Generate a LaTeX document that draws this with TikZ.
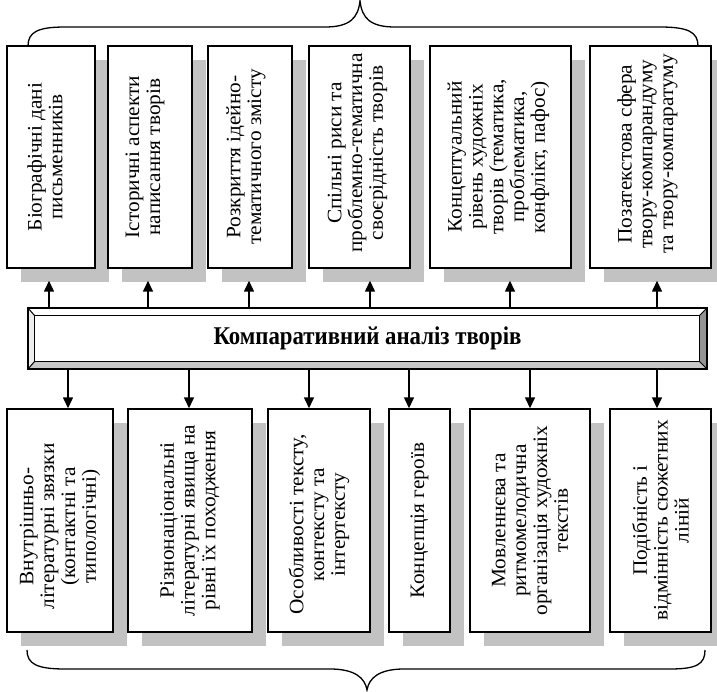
\documentclass[tikz,border=0pt]{standalone}
\usepackage{fontspec}
\setmainfont{Liberation Serif}
\usetikzlibrary{arrows.meta,shadows}
\definecolor{shade}{gray}{0.76}
\definecolor{bevlight}{gray}{0.93}
\definecolor{bevmid}{gray}{0.78}
\definecolor{bevdark}{gray}{0.58}
\begin{document}
\begin{tikzpicture}[x=1pt,y=-1pt,
  box/.style={draw, line width=1.4pt, fill=white, inner sep=0pt,
    drop shadow={shadow xshift=14pt, shadow yshift=-14pt, fill=shade, opacity=1}},
  lbl/.style={rotate=90, xscale=1.04, align=center, font=\fontsize{20.5}{20.8}\selectfont, inner sep=0pt},
  arr/.style={line width=1.4pt, -{Triangle[width=10pt,length=11pt]}},
  brace/.style={line width=1.3pt}]
\useasboundingbox (0,0) rectangle (717,692);

% top boxes
\node[box, minimum width=88pt,  minimum height=222pt] (t1) at (51,157) {};
\node[box, minimum width=84pt,  minimum height=222pt] (t2) at (150,157) {};
\node[box, minimum width=84pt,  minimum height=222pt] (t3) at (250,157) {};
\node[box, minimum width=101pt, minimum height=222pt] (t4) at (359.5,157) {};
\node[box, minimum width=141pt, minimum height=222pt] (t5) at (500.5,157) {};
\node[box, minimum width=121pt, minimum height=222pt] (t6) at (650.5,157) {};
\node[lbl] (t1l) at ([xshift=-6pt]t1) {Біографічні дані\\письменників};
\node[lbl] (t2l) at ([xshift=-5pt]t2) {Історичні аспекти\\написання творів};
\node[lbl] (t3l) at ([xshift=-4pt]t3) {Розкриття ідейно-\\тематичного змісту};
\node[lbl] (t4l) at ([xshift=-2pt,yshift=4pt]t4) {Спільні риси та\\проблемно-тематична\\своєрідність творів};
\node[lbl] (t5l) at ([xshift=-2pt]t5) {Концептуальний\\рівень художніх\\творів (тематика,\\проблематика,\\конфлікт, пафос)};
\node[lbl] (t6l) at ([xshift=-3pt,yshift=3pt]t6) {Позатекстова сфера\\твору-компарандуму\\та твору-компаратуму};

% bottom boxes
\node[box, minimum width=106pt, minimum height=223pt] (b1) at (60,520.5) {};
\node[box, minimum width=124pt, minimum height=223pt] (b2) at (190,520.5) {};
\node[box, minimum width=102pt, minimum height=223pt] (b3) at (319,520.5) {};
\node[box, minimum width=61pt,  minimum height=223pt] (b4) at (419.5,520.5) {};
\node[box, minimum width=120pt, minimum height=223pt] (b5) at (530,520.5) {};
\node[box, minimum width=101pt, minimum height=223pt] (b6) at (660.5,520.5) {};
\node[lbl] (b1l) at ([yshift=-6pt]b1) {Внутрішньо-\\літературні звязки\\(контактні та\\типологічні)};
\node[lbl] (b2l) at (b2) {Різнонаціональні\\літературні явища на\\рівні їх походження};
\node[lbl] (b3l) at ([yshift=-4pt]b3) {Особливості тексту,\\контексту та\\інтертексту};
\node[lbl] (b4l) at (b4) {Концепція героїв};
\node[lbl] (b5l) at (b5) {Мовленнєва та\\ритмомелодична\\організація художніх\\текстів};
\node[lbl] (b6l) at (b6) {Подібність і\\відмінність сюжетних\\ліній};

% central bar
\node[minimum width=679pt, minimum height=61pt, inner sep=0pt] (bar) at (367.5,338.5) {};
\coordinate (bi1) at ([shift={(7,8)}]bar.north west);
\coordinate (bi2) at ([shift={(-8,8)}]bar.north east);
\coordinate (bi3) at ([shift={(-8,-8)}]bar.south east);
\coordinate (bi4) at ([shift={(7,-8)}]bar.south west);
\fill[white] (bar.north west) -- (bar.north east) -- (bi2) -- (bi1) -- cycle;
\fill[bevlight] (bar.north west) -- (bi1) -- (bi4) -- (bar.south west) -- cycle;
\fill[bevmid] (bar.south west) -- (bi4) -- (bi3) -- (bar.south east) -- cycle;
\fill[bevdark] (bar.north east) -- (bi2) -- (bi3) -- (bar.south east) -- cycle;
\fill[white] (bi1) rectangle (bi3);
\draw[line width=1.5pt] (bar.north west) rectangle (bar.south east);
\draw[line width=1.1pt] (bi1) rectangle (bi3);
\draw[line width=1pt] (bar.north west) -- (bi1) (bar.north east) -- (bi2)
  (bar.south east) -- (bi3) (bar.south west) -- (bi4);
\node[font=\fontsize{22.8}{26}\selectfont\bfseries, yscale=1.12, inner sep=0pt] (title) at (bar) {Компаративний аналіз творів};

% arrows up
\draw[arr] ([xshift=-2pt]t1.south |- bar.north) -- ([xshift=-2pt,yshift=-12pt]t1.south);
\draw[arr] ([xshift=-2pt]t2.south |- bar.north) -- ([xshift=-2pt,yshift=-12pt]t2.south);
\draw[arr] ([xshift=-1pt]t3.south |- bar.north) -- ([xshift=-1pt,yshift=-12pt]t3.south);
\draw[arr] ([xshift=10.5pt]t4.south |- bar.north) -- ([xshift=10.5pt,yshift=-12pt]t4.south);
\draw[arr] ([xshift=9.5pt]t5.south |- bar.north) -- ([xshift=9.5pt,yshift=-12pt]t5.south);
\draw[arr] ([xshift=6.5pt]t6.south |- bar.north) -- ([xshift=6.5pt,yshift=-12pt]t6.south);

% arrows down
\draw[arr] ([xshift=8pt]b1.north |- bar.south) -- ([xshift=8pt]b1.north);
\draw[arr] ([xshift=-1pt]b2.north |- bar.south) -- ([xshift=-1pt]b2.north);
\draw[arr] ([xshift=-10pt]b3.north |- bar.south) -- ([xshift=-10pt]b3.north);
\draw[arr] ([xshift=-10.5pt]b4.north |- bar.south) -- ([xshift=-10.5pt]b4.north);
\draw[arr] ([xshift=0pt]b5.north |- bar.south) -- ([xshift=0pt]b5.north);
\draw[arr] ([xshift=-3.5pt]b6.north |- bar.south) -- ([xshift=-3.5pt]b6.north);

% braces
\draw[brace] (28,46) .. controls (28,32) and (38,27) .. (65,27) -- (325,27)
  .. controls (350,27) and (358,18) .. (360,1)
  .. controls (362,18) and (370,27) .. (395,27) -- (660,27)
  .. controls (688,27) and (698,32) .. (698,46);
\draw[brace] (27,650) .. controls (27,664) and (37,669) .. (65,669) -- (330,669)
  .. controls (355,669) and (365,678) .. (367,690)
  .. controls (369,678) and (379,669) .. (404,669) -- (670,669)
  .. controls (697,669) and (705,664) .. (705,650);
\end{tikzpicture}
\end{document}
